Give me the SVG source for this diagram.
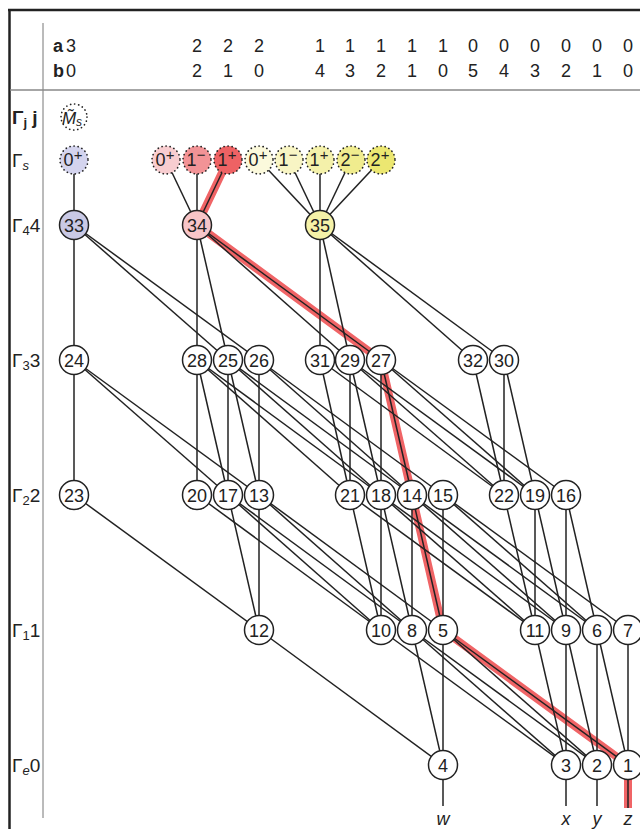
<svg xmlns="http://www.w3.org/2000/svg" width="640" height="829" viewBox="0 0 640 829">
<style>
.t{font-family:"Liberation Sans",Arial,sans-serif;fill:#222}
.n{font-size:18px;text-anchor:middle}
.h{font-size:18px;text-anchor:middle}
.lb{font-size:19px}
.e{stroke:#222;stroke-width:1.5;fill:none}
.r{stroke:#f06466;stroke-width:8;fill:none;stroke-linecap:butt}
.nd{stroke:#222;stroke-width:1.5;fill:#fff}
.dt{stroke:#222;stroke-width:1.7;stroke-dasharray:0.1 4;stroke-linecap:round}
.it{font-style:italic}
.sp{font-size:15px}
</style>
<rect width="640" height="829" fill="#fff"/>
<g id="frame">
<line x1="8" y1="10" x2="640" y2="10" stroke="#222" stroke-width="2.5"/>
<line x1="9.5" y1="10" x2="9.5" y2="829" stroke="#222" stroke-width="2.5"/>
<line x1="43" y1="23" x2="43" y2="818" stroke="#777" stroke-width="1"/>
<line x1="10" y1="90" x2="640" y2="90" stroke="#888" stroke-width="1.3"/>
</g>
<g id="header" class="t">
<text x="53" y="52" font-size="18" font-weight="bold">a</text>
<text x="66" y="52" font-size="18">3</text>
<text x="53" y="77" font-size="18" font-weight="bold">b</text>
<text x="66" y="77" font-size="18">0</text>
<g class="h">
<text x="197" y="52">2</text><text x="228" y="52">2</text><text x="259" y="52">2</text>
<text x="320" y="52">1</text><text x="350" y="52">1</text><text x="381" y="52">1</text><text x="412" y="52">1</text><text x="443" y="52">1</text>
<text x="473" y="52">0</text><text x="504" y="52">0</text><text x="535" y="52">0</text><text x="566" y="52">0</text><text x="597" y="52">0</text><text x="628" y="52">0</text>
<text x="197" y="77">2</text><text x="228" y="77">1</text><text x="259" y="77">0</text>
<text x="320" y="77">4</text><text x="350" y="77">3</text><text x="381" y="77">2</text><text x="412" y="77">1</text><text x="443" y="77">0</text>
<text x="473" y="77">5</text><text x="504" y="77">4</text><text x="535" y="77">3</text><text x="566" y="77">2</text><text x="597" y="77">1</text><text x="628" y="77">0</text>
</g>
</g>
<g id="rowlabels" class="t lb">
<text x="12" y="124" font-weight="bold">Γ<tspan font-size="13" dy="3">j</tspan><tspan dy="-3"> j</tspan></text>
<text x="12" y="167">Γ<tspan font-size="13" dy="3" class="it">s</tspan></text>
<text x="12" y="232">Γ<tspan font-size="13" dy="3">4</tspan><tspan dy="-3">4</tspan></text>
<text x="12" y="367">Γ<tspan font-size="13" dy="3">3</tspan><tspan dy="-3">3</tspan></text>
<text x="12" y="502">Γ<tspan font-size="13" dy="3">2</tspan><tspan dy="-3">2</tspan></text>
<text x="12" y="637">Γ<tspan font-size="13" dy="3">1</tspan><tspan dy="-3">1</tspan></text>
<text x="12" y="772">Γ<tspan font-size="13" dy="3" class="it">e</tspan><tspan dy="-3">0</tspan></text>
</g>
<g id="connectors">
<g id="redpath">
<polyline class="r" points="228,160 197,225 381,360 412,495 443,630 628,765 628,808"/>
</g>
<g class="e">
<line x1="74" y1="160" x2="74" y2="225"/>
<line x1="166" y1="160" x2="197" y2="225"/>
<line x1="197" y1="160" x2="197" y2="225"/>
<line x1="228" y1="160" x2="197" y2="225"/>
<line x1="259" y1="160" x2="320" y2="225"/>
<line x1="289" y1="160" x2="320" y2="225"/>
<line x1="320" y1="160" x2="320" y2="225"/>
<line x1="351" y1="160" x2="320" y2="225"/>
<line x1="381" y1="160" x2="320" y2="225"/>
<line x1="74" y1="225" x2="74" y2="360"/>
<line x1="74" y1="225" x2="228" y2="360"/>
<line x1="74" y1="225" x2="259" y2="360"/>
<line x1="197" y1="225" x2="197" y2="360"/>
<line x1="197" y1="225" x2="228" y2="360"/>
<line x1="197" y1="225" x2="350" y2="360"/>
<line x1="197" y1="225" x2="381" y2="360"/>
<line x1="320" y1="225" x2="320" y2="360"/>
<line x1="320" y1="225" x2="350" y2="360"/>
<line x1="320" y1="225" x2="473" y2="360"/>
<line x1="320" y1="225" x2="504" y2="360"/>
<line x1="74" y1="360" x2="74" y2="495"/>
<line x1="74" y1="360" x2="228" y2="495"/>
<line x1="74" y1="360" x2="259" y2="495"/>
<line x1="197" y1="360" x2="197" y2="495"/>
<line x1="197" y1="360" x2="228" y2="495"/>
<line x1="197" y1="360" x2="350" y2="495"/>
<line x1="197" y1="360" x2="381" y2="495"/>
<line x1="228" y1="360" x2="228" y2="495"/>
<line x1="228" y1="360" x2="259" y2="495"/>
<line x1="228" y1="360" x2="381" y2="495"/>
<line x1="228" y1="360" x2="412" y2="495"/>
<line x1="259" y1="360" x2="259" y2="495"/>
<line x1="259" y1="360" x2="412" y2="495"/>
<line x1="259" y1="360" x2="443" y2="495"/>
<line x1="320" y1="360" x2="350" y2="495"/>
<line x1="320" y1="360" x2="504" y2="495"/>
<line x1="350" y1="360" x2="350" y2="495"/>
<line x1="350" y1="360" x2="381" y2="495"/>
<line x1="350" y1="360" x2="504" y2="495"/>
<line x1="350" y1="360" x2="535" y2="495"/>
<line x1="381" y1="360" x2="381" y2="495"/>
<line x1="381" y1="360" x2="412" y2="495"/>
<line x1="381" y1="360" x2="535" y2="495"/>
<line x1="381" y1="360" x2="566" y2="495"/>
<line x1="473" y1="360" x2="504" y2="495"/>
<line x1="504" y1="360" x2="504" y2="495"/>
<line x1="504" y1="360" x2="535" y2="495"/>
<line x1="74" y1="495" x2="259" y2="630"/>
<line x1="197" y1="495" x2="381" y2="630"/>
<line x1="228" y1="495" x2="259" y2="630"/>
<line x1="228" y1="495" x2="381" y2="630"/>
<line x1="228" y1="495" x2="412" y2="630"/>
<line x1="259" y1="495" x2="259" y2="630"/>
<line x1="259" y1="495" x2="412" y2="630"/>
<line x1="259" y1="495" x2="443" y2="630"/>
<line x1="350" y1="495" x2="381" y2="630"/>
<line x1="350" y1="495" x2="535" y2="630"/>
<line x1="381" y1="495" x2="381" y2="630"/>
<line x1="381" y1="495" x2="412" y2="630"/>
<line x1="381" y1="495" x2="535" y2="630"/>
<line x1="381" y1="495" x2="566" y2="630"/>
<line x1="412" y1="495" x2="412" y2="630"/>
<line x1="412" y1="495" x2="443" y2="630"/>
<line x1="412" y1="495" x2="566" y2="630"/>
<line x1="412" y1="495" x2="597" y2="630"/>
<line x1="443" y1="495" x2="443" y2="630"/>
<line x1="443" y1="495" x2="597" y2="630"/>
<line x1="443" y1="495" x2="628" y2="630"/>
<line x1="504" y1="495" x2="535" y2="630"/>
<line x1="535" y1="495" x2="535" y2="630"/>
<line x1="535" y1="495" x2="566" y2="630"/>
<line x1="566" y1="495" x2="566" y2="630"/>
<line x1="566" y1="495" x2="597" y2="630"/>
<line x1="259" y1="630" x2="443" y2="765"/>
<line x1="381" y1="630" x2="566" y2="765"/>
<line x1="412" y1="630" x2="443" y2="765"/>
<line x1="412" y1="630" x2="566" y2="765"/>
<line x1="412" y1="630" x2="597" y2="765"/>
<line x1="443" y1="630" x2="443" y2="765"/>
<line x1="443" y1="630" x2="597" y2="765"/>
<line x1="443" y1="630" x2="628" y2="765"/>
<line x1="535" y1="630" x2="566" y2="765"/>
<line x1="566" y1="630" x2="566" y2="765"/>
<line x1="566" y1="630" x2="597" y2="765"/>
<line x1="597" y1="630" x2="597" y2="765"/>
<line x1="597" y1="630" x2="628" y2="765"/>
<line x1="628" y1="630" x2="628" y2="765"/>
<line x1="443" y1="765" x2="443" y2="806"/>
<line x1="566" y1="765" x2="566" y2="806"/>
<line x1="597" y1="765" x2="597" y2="806"/>
<line x1="628" y1="765" x2="628" y2="808"/>
</g>
</g>
<g id="Ms" class="t"><circle cx="74" cy="117" r="13" fill="#fff" class="dt"/><text x="72" y="124" font-size="17" class="it" text-anchor="middle">M̃<tspan font-size="12" dy="2">s</tspan></text></g>
<g id="s_a0p" class="t"><circle cx="74" cy="160" r="14" fill="#d4d4ee" class="dt"/><text x="73" y="166" class="n">0<tspan class="sp" dy="-6">+</tspan></text></g>
<g id="s_p0p" class="t"><circle cx="166" cy="160" r="14" fill="#f8cdd0" class="dt"/><text x="165" y="166" class="n">0<tspan class="sp" dy="-6">+</tspan></text></g>
<g id="s_p1m" class="t"><circle cx="197" cy="160" r="14" fill="#f29396" class="dt"/><text x="196" y="166" class="n">1<tspan class="sp" dy="-6">−</tspan></text></g>
<g id="s_p1p" class="t"><circle cx="228" cy="160" r="14" fill="#ee6264" class="dt"/><text x="227" y="166" class="n">1<tspan class="sp" dy="-6">+</tspan></text></g>
<g id="s_y0p" class="t"><circle cx="259" cy="160" r="14" fill="#fbf9dc" class="dt"/><text x="258" y="166" class="n">0<tspan class="sp" dy="-6">+</tspan></text></g>
<g id="s_y1m" class="t"><circle cx="289" cy="160" r="14" fill="#f8f5c4" class="dt"/><text x="288" y="166" class="n">1<tspan class="sp" dy="-6">−</tspan></text></g>
<g id="s_y1p" class="t"><circle cx="320" cy="160" r="14" fill="#f4f1aa" class="dt"/><text x="319" y="166" class="n">1<tspan class="sp" dy="-6">+</tspan></text></g>
<g id="s_y2m" class="t"><circle cx="351" cy="160" r="14" fill="#f0ec8e" class="dt"/><text x="350" y="166" class="n">2<tspan class="sp" dy="-6">−</tspan></text></g>
<g id="s_y2p" class="t"><circle cx="381" cy="160" r="14" fill="#ece771" class="dt"/><text x="380" y="166" class="n">2<tspan class="sp" dy="-6">+</tspan></text></g>
<g id="n33" class="t"><circle cx="74" cy="225" r="14.5" class="nd" style="fill:#c9c9e5"/><text x="74" y="231.5" class="n">33</text></g>
<g id="n34" class="t"><circle cx="197" cy="225" r="14.5" class="nd" style="fill:#f7c5c8"/><text x="197" y="231.5" class="n">34</text></g>
<g id="n35" class="t"><circle cx="320" cy="225" r="14.5" class="nd" style="fill:#f5f2a8"/><text x="320" y="231.5" class="n">35</text></g>
<g id="n24" class="t"><circle cx="74" cy="360" r="14.5" class="nd"/><text x="74" y="366.5" class="n">24</text></g>
<g id="n28" class="t"><circle cx="197" cy="360" r="14.5" class="nd"/><text x="197" y="366.5" class="n">28</text></g>
<g id="n25" class="t"><circle cx="228" cy="360" r="14.5" class="nd"/><text x="228" y="366.5" class="n">25</text></g>
<g id="n26" class="t"><circle cx="259" cy="360" r="14.5" class="nd"/><text x="259" y="366.5" class="n">26</text></g>
<g id="n31" class="t"><circle cx="320" cy="360" r="14.5" class="nd"/><text x="320" y="366.5" class="n">31</text></g>
<g id="n29" class="t"><circle cx="350" cy="360" r="14.5" class="nd"/><text x="350" y="366.5" class="n">29</text></g>
<g id="n27" class="t"><circle cx="381" cy="360" r="14.5" class="nd"/><text x="381" y="366.5" class="n">27</text></g>
<g id="n32" class="t"><circle cx="473" cy="360" r="14.5" class="nd"/><text x="473" y="366.5" class="n">32</text></g>
<g id="n30" class="t"><circle cx="504" cy="360" r="14.5" class="nd"/><text x="504" y="366.5" class="n">30</text></g>
<g id="n23" class="t"><circle cx="74" cy="495" r="14.5" class="nd"/><text x="74" y="501.5" class="n">23</text></g>
<g id="n20" class="t"><circle cx="197" cy="495" r="14.5" class="nd"/><text x="197" y="501.5" class="n">20</text></g>
<g id="n17" class="t"><circle cx="228" cy="495" r="14.5" class="nd"/><text x="228" y="501.5" class="n">17</text></g>
<g id="n13" class="t"><circle cx="259" cy="495" r="14.5" class="nd"/><text x="259" y="501.5" class="n">13</text></g>
<g id="n21" class="t"><circle cx="350" cy="495" r="14.5" class="nd"/><text x="350" y="501.5" class="n">21</text></g>
<g id="n18" class="t"><circle cx="381" cy="495" r="14.5" class="nd"/><text x="381" y="501.5" class="n">18</text></g>
<g id="n14" class="t"><circle cx="412" cy="495" r="14.5" class="nd"/><text x="412" y="501.5" class="n">14</text></g>
<g id="n15" class="t"><circle cx="443" cy="495" r="14.5" class="nd"/><text x="443" y="501.5" class="n">15</text></g>
<g id="n22" class="t"><circle cx="504" cy="495" r="14.5" class="nd"/><text x="504" y="501.5" class="n">22</text></g>
<g id="n19" class="t"><circle cx="535" cy="495" r="14.5" class="nd"/><text x="535" y="501.5" class="n">19</text></g>
<g id="n16" class="t"><circle cx="566" cy="495" r="14.5" class="nd"/><text x="566" y="501.5" class="n">16</text></g>
<g id="n12" class="t"><circle cx="259" cy="630" r="14.5" class="nd"/><text x="259" y="636.5" class="n">12</text></g>
<g id="n10" class="t"><circle cx="381" cy="630" r="14.5" class="nd"/><text x="381" y="636.5" class="n">10</text></g>
<g id="n8" class="t"><circle cx="412" cy="630" r="14.5" class="nd"/><text x="412" y="636.5" class="n">8</text></g>
<g id="n5" class="t"><circle cx="443" cy="630" r="14.5" class="nd"/><text x="443" y="636.5" class="n">5</text></g>
<g id="n11" class="t"><circle cx="535" cy="630" r="14.5" class="nd"/><text x="535" y="636.5" class="n">11</text></g>
<g id="n9" class="t"><circle cx="566" cy="630" r="14.5" class="nd"/><text x="566" y="636.5" class="n">9</text></g>
<g id="n6" class="t"><circle cx="597" cy="630" r="14.5" class="nd"/><text x="597" y="636.5" class="n">6</text></g>
<g id="n7" class="t"><circle cx="628" cy="630" r="14.5" class="nd"/><text x="628" y="636.5" class="n">7</text></g>
<g id="n4" class="t"><circle cx="443" cy="765" r="14.5" class="nd"/><text x="443" y="771.5" class="n">4</text></g>
<g id="n3" class="t"><circle cx="566" cy="765" r="14.5" class="nd"/><text x="566" y="771.5" class="n">3</text></g>
<g id="n2" class="t"><circle cx="597" cy="765" r="14.5" class="nd"/><text x="597" y="771.5" class="n">2</text></g>
<g id="n1" class="t"><circle cx="628" cy="765" r="14.5" class="nd"/><text x="628" y="771.5" class="n">1</text></g>
<g id="outputs" class="t it n">
<text x="443" y="825">w</text>
<text x="566" y="825">x</text>
<text x="597" y="825">y</text>
<text x="628" y="825">z</text>
</g>
</svg>
